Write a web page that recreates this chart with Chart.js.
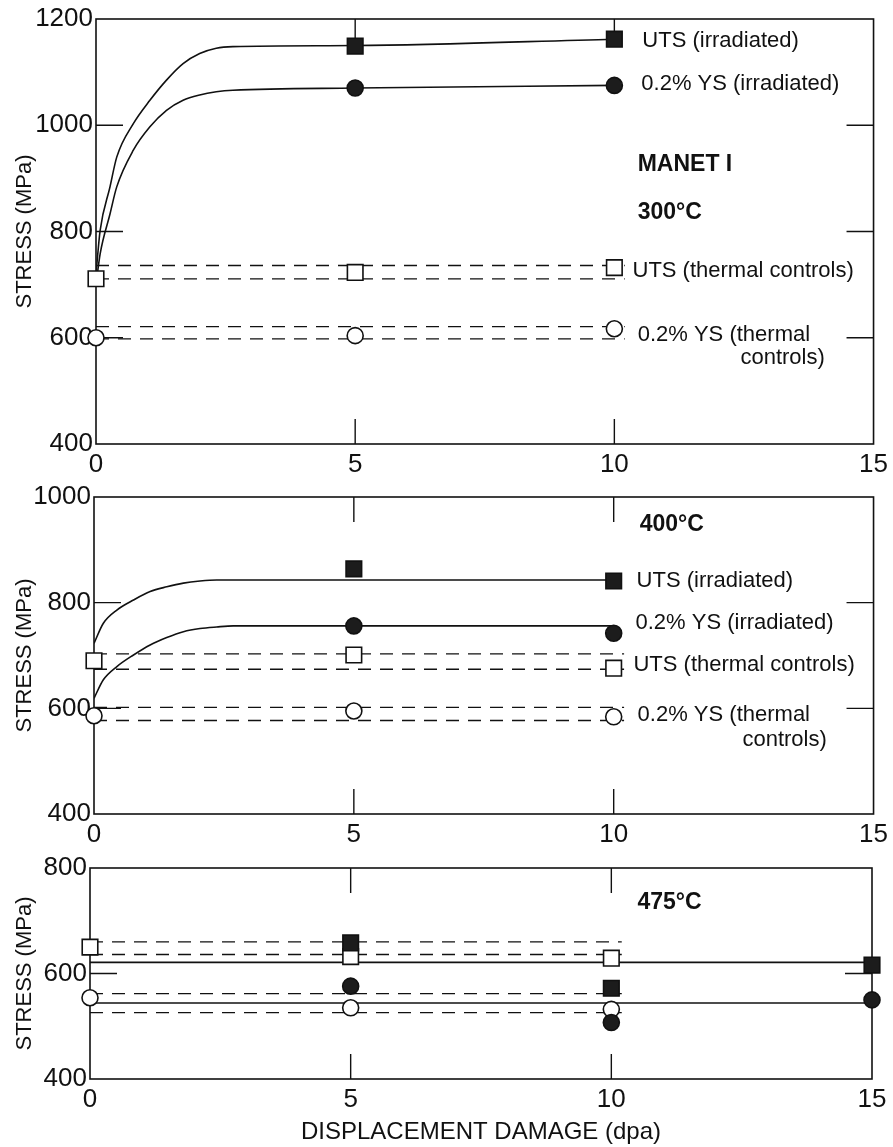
<!DOCTYPE html>
<html>
<head>
<meta charset="utf-8">
<script src="https://cdn.jsdelivr.net/npm/chart.js@4/dist/chart.umd.min.js"></script>
<style>
  body { margin: 0; background: #fff; }
  canvas { display: block; }
</style>
</head>
<body>
<canvas id="c300" width="893" height="478"></canvas>
<canvas id="c400" width="893" height="367"></canvas>
<canvas id="c475" width="893" height="302"></canvas>
<script>
// x values of the tests (dpa)
const dpa = [0, 5, 10];
const dpa475 = [5, 10, 15];
const bandX = [0, 10.2];

// 300 C panel
const fitX300 = [0, 0.08, 0.27, 0.4, 0.72, 1.04, 1.36, 1.68, 2.0, 2.32, 2.64, 5, 10];
const utsFit300 = [720, 802, 884, 940, 1003, 1047, 1085, 1116, 1135, 1145, 1148, 1150, 1162];
const ysFit300 = [700, 758, 833, 884, 953, 997, 1028, 1047, 1057, 1063, 1066, 1070, 1075];
const utsIrr300 = [1149, 1162];
const ysIrr300 = [1070, 1075];
const utsCtl300 = [711, 723, 732];
const ysCtl300 = [600, 604, 617];
const utsBand300 = [736, 711];
const ysBand300 = [621, 598];

// 400 C panel
const fitX400 = [0, 0.18, 0.44, 0.76, 1.08, 1.4, 1.72, 2.04, 2.36, 2.68, 5, 10];
const utsFit400 = [723, 761, 786, 805, 821, 830, 837, 841, 843, 843, 843, 843];
const ysFit400 = [619, 654, 679, 701, 720, 734, 745, 751, 754, 756, 756, 756];
const utsIrr400 = [864, 841];
const ysIrr400 = [756, 742];
const utsCtl400 = [690, 701, 676];
const ysCtl400 = [586, 595, 584];
const utsBand400 = [703, 674];
const ysBand400 = [602, 577];

// 475 C panel
const fitX475 = [0, 15];
const utsFit475 = [621, 621];
const ysFit475 = [544, 544];
const utsIrr475 = [658, 572, 616];
const ysIrr475 = [576, 507, 550];
const utsCtl475 = [650, 632, 629];
const ysCtl475 = [554, 535, 532];
const utsBand475 = [660, 636];
const ysBand475 = [562, 526];

const FONT = '"Liberation Sans", Arial, sans-serif';
const INK = '#111';

function pts(xs, ys) {
  return xs.map((x, i) => ({ x: x, y: ys[i] }));
}

function fit(xs, ys) {
  return {
    data: pts(xs, ys), showLine: true, borderColor: INK, borderWidth: 1.6,
    pointRadius: 0, cubicInterpolationMode: 'monotone', order: 2
  };
}

function bands(vals) {
  return vals.map(v => ({
    data: pts(bandX, [v, v]), showLine: true, borderColor: INK, borderWidth: 1.3,
    borderDash: [13, 9], pointRadius: 0, order: 2
  }));
}

function marks(xs, ys, style, filled) {
  return {
    data: pts(xs, ys), showLine: false, pointStyle: style,
    pointRadius: style === 'rect' ? 11 : 8,
    backgroundColor: filled ? '#1c1c1c' : '#fff',
    borderColor: INK, borderWidth: 1.6, clip: false, order: 0
  };
}

// frame, inner ticks and text labels
const decor = {
  id: 'decor',
  beforeDatasetsDraw(chart, args, opts) {
    const { ctx, chartArea: a, scales: { x, y } } = chart;
    ctx.save();
    ctx.strokeStyle = INK;
    ctx.lineWidth = 1.6;
    ctx.strokeRect(a.left, a.top, a.right - a.left, a.bottom - a.top);
    ctx.lineWidth = 1.4;
    ctx.beginPath();
    opts.xTicks.forEach(v => {
      const px = x.getPixelForValue(v);
      ctx.moveTo(px, a.bottom); ctx.lineTo(px, a.bottom - 25);
      ctx.moveTo(px, a.top); ctx.lineTo(px, a.top + 25);
    });
    opts.yTicks.forEach(v => {
      const py = y.getPixelForValue(v);
      ctx.moveTo(a.left, py); ctx.lineTo(a.left + 27, py);
      ctx.moveTo(a.right, py); ctx.lineTo(a.right - 27, py);
    });
    ctx.stroke();
    ctx.restore();
  },
  afterDatasetsDraw(chart, args, opts) {
    const { ctx, scales: { x, y } } = chart;
    ctx.save();
    ctx.fillStyle = INK;
    ctx.textBaseline = 'middle';
    opts.labels.forEach(l => {
      ctx.font = (l.bold ? 'bold 23px ' : '22px ') + FONT;
      ctx.textAlign = l.align || 'left';
      ctx.fillText(l.text, x.getPixelForValue(l.x), y.getPixelForValue(l.y));
    });
    ctx.restore();
  }
};

function panel(id, cfg) {
  new Chart(document.getElementById(id), {
    type: 'scatter',
    data: { datasets: cfg.datasets },
    plugins: [decor],
    options: {
      responsive: false,
      animation: false,
      devicePixelRatio: 1,
      layout: { padding: { top: cfg.top, right: 893 - cfg.right, left: 0, bottom: 0 } },
      plugins: {
        legend: { display: false },
        tooltip: { enabled: false },
        decor: { xTicks: [5, 10], yTicks: cfg.yTicks, labels: cfg.labels }
      },
      scales: {
        x: {
          type: 'linear', min: 0, max: 15,
          afterFit: s => { s.height = cfg.xHeight; },
          ticks: {
            stepSize: 5, padding: 5, color: INK, font: { family: FONT, size: 26 },
            callback: v => String(v)
          },
          grid: { drawOnChartArea: false, drawTicks: false },
          border: { display: false },
          title: {
            display: !!cfg.xTitle, text: cfg.xTitle || '', color: INK,
            padding: { top: 0, bottom: 0 }, font: { family: FONT, size: 24 }
          }
        },
        y: {
          type: 'linear', min: cfg.yMin, max: cfg.yMax,
          afterFit: s => { s.width = cfg.left; },
          ticks: {
            stepSize: 200, padding: 3, color: INK, font: { family: FONT, size: 26 },
            callback: v => String(v)
          },
          grid: { drawOnChartArea: false, drawTicks: false },
          border: { display: false },
          title: {
            display: true, text: 'STRESS (MPa)', color: INK,
            padding: { top: 12, bottom: 0 }, font: { family: FONT, size: 22 }
          }
        }
      }
    }
  });
}

panel('c300', {
  top: 19, left: 96, right: 877, xHeight: 34, yMin: 400, yMax: 1200,
  yTicks: [600, 800, 1000],
  datasets: [
    marks(dpa.slice(1), utsIrr300, 'rect', true),
    marks(dpa.slice(1), ysIrr300, 'circle', true),
    marks(dpa, utsCtl300, 'rect', false),
    marks(dpa, ysCtl300, 'circle', false),
    fit(fitX300, utsFit300),
    fit(fitX300, ysFit300),
    ...bands(utsBand300),
    ...bands(ysBand300)
  ],
  labels: [
    { text: 'UTS (irradiated)', x: 10.54, y: 1158 },
    { text: '0.2% YS (irradiated)', x: 10.52, y: 1077 },
    { text: 'MANET I', x: 10.45, y: 926, bold: true },
    { text: '300\u00B0C', x: 10.45, y: 836, bold: true },
    { text: 'UTS (thermal controls)', x: 10.35, y: 725 },
    { text: '0.2% YS (thermal', x: 10.45, y: 606 },
    { text: 'controls)', x: 14.06, y: 562, align: 'right' }
  ]
});

panel('c400', {
  top: 19, left: 94, right: 874, xHeight: 31, yMin: 400, yMax: 1000,
  yTicks: [600, 800],
  datasets: [
    marks(dpa.slice(1), utsIrr400, 'rect', true),
    marks(dpa.slice(1), ysIrr400, 'circle', true),
    marks(dpa, utsCtl400, 'rect', false),
    marks(dpa, ysCtl400, 'circle', false),
    fit(fitX400, utsFit400),
    fit(fitX400, ysFit400),
    ...bands(utsBand400),
    ...bands(ysBand400)
  ],
  labels: [
    { text: '400\u00B0C', x: 10.5, y: 947, bold: true },
    { text: 'UTS (irradiated)', x: 10.44, y: 841 },
    { text: '0.2% YS (irradiated)', x: 10.42, y: 761 },
    { text: 'UTS (thermal controls)', x: 10.38, y: 682 },
    { text: '0.2% YS (thermal', x: 10.46, y: 587 },
    { text: 'controls)', x: 14.1, y: 540, align: 'right' }
  ]
});

panel('c475', {
  top: 23, left: 90, right: 872, xHeight: 68, yMin: 400, yMax: 800,
  yTicks: [600],
  xTitle: 'DISPLACEMENT DAMAGE (dpa)',
  datasets: [
    marks(dpa475, utsIrr475, 'rect', true),
    marks(dpa475, ysIrr475, 'circle', true),
    marks(dpa, utsCtl475, 'rect', false),
    marks(dpa, ysCtl475, 'circle', false),
    fit(fitX475, utsFit475),
    fit(fitX475, ysFit475),
    ...bands(utsBand475),
    ...bands(ysBand475)
  ],
  labels: [
    { text: '475\u00B0C', x: 10.5, y: 734, bold: true }
  ]
});
</script>
</body>
</html>
